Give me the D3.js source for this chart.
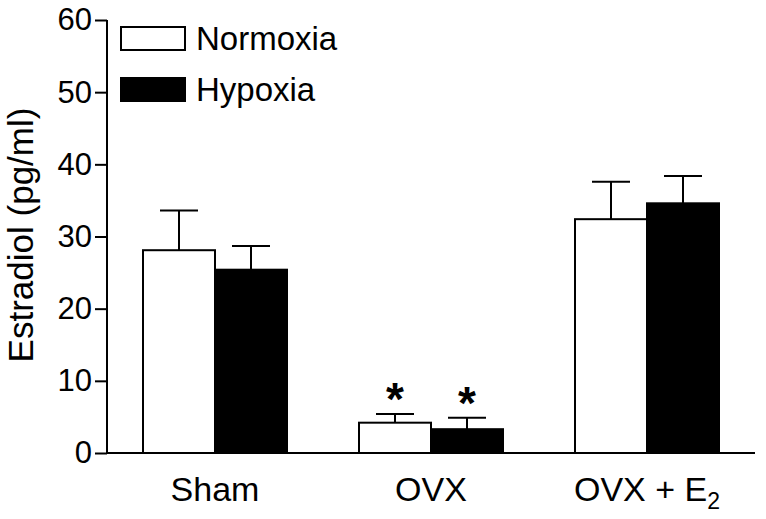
<!DOCTYPE html>
<html lang="en">
<head>
<meta charset="utf-8">
<script src="https://d3js.org/d3.v7.min.js"></script>
<style>
  body { margin: 0; background: #fff; }
  svg text { font-family: "Liberation Sans", Arial, sans-serif; fill: #000; }
</style>
</head>
<body>
<div id="chart"></div>
<script>
// data
var groups = ["Sham", "OVX", "OVX + E2"];
var seriesNames = ["Normoxia", "Hypoxia"];
var normoxia = [28.1, 4.2, 32.4];
var normoxiaErr = [5.5, 1.2, 5.2];
var hypoxia = [25.4, 3.3, 34.6];
var hypoxiaErr = [3.3, 1.6, 3.8];
var starred = [false, true, false];
var yTicks = [0, 10, 20, 30, 40, 50, 60];

var width = 766, height = 519;
var svg = d3.select("#chart").append("svg")
    .attr("width", width).attr("height", height);

var x0 = d3.scaleBand().domain(groups).range([107, 755]).padding(0);
var x1 = d3.scaleBand().domain(seriesNames).range([0, 144]).padding(0);
var y = d3.scaleLinear().domain([0, 60]).range([453, 20]);

var rows = groups.map(function (g, i) {
    return [
        { group: g, name: "Normoxia", v: normoxia[i], e: normoxiaErr[i], fill: "#fff", star: starred[i] },
        { group: g, name: "Hypoxia", v: hypoxia[i], e: hypoxiaErr[i], fill: "#000", star: starred[i] }
    ];
}).flat();

function barX(d) { return x0(d.group) + (x0.bandwidth() - 144) / 2 + x1(d.name); }

// error bars (drawn behind bars)
var eb = svg.append("g").attr("stroke", "#000").attr("stroke-width", 2);
rows.forEach(function (d) {
    var cx = barX(d) + x1.bandwidth() / 2;
    eb.append("line").attr("x1", cx).attr("x2", cx).attr("y1", y(d.v)).attr("y2", y(d.v + d.e));
    eb.append("line").attr("x1", cx - 19).attr("x2", cx + 19).attr("y1", y(d.v + d.e)).attr("y2", y(d.v + d.e));
});

// bars
svg.append("g").selectAll("rect").data(rows).join("rect")
    .attr("x", barX)
    .attr("y", function (d) { return y(d.v); })
    .attr("width", x1.bandwidth())
    .attr("height", function (d) { return y(0) - y(d.v); })
    .attr("fill", function (d) { return d.fill; })
    .attr("stroke", "#000")
    .attr("stroke-width", 2);

// significance stars
svg.append("g").selectAll("text").data(rows.filter(function (d) { return d.star; })).join("text")
    .attr("x", function (d) { return barX(d) + x1.bandwidth() / 2; })
    .attr("y", function (d) { return y(d.v + d.e) + 1; })
    .attr("text-anchor", "middle")
    .style("font-size", "46px")
    .style("font-weight", "bold")
    .text("*");

// y axis
var yAxis = svg.append("g").attr("transform", "translate(107,0)")
    .call(d3.axisLeft(y).tickValues(yTicks).tickSize(12).tickPadding(3));
yAxis.selectAll("line, path").attr("stroke", "#000").attr("stroke-width", 2);
yAxis.select(".domain").attr("d", "M0," + y(60) + "V" + y(0));
yAxis.selectAll("text").style("font-size", "31px").attr("font-family", null);

// x axis baseline
svg.append("line").attr("x1", 106).attr("x2", 755).attr("y1", y(0)).attr("y2", y(0))
    .attr("stroke", "#000").attr("stroke-width", 2);

// x labels
var xl = svg.append("g").selectAll("text").data(groups).join("text")
    .attr("x", function (g) { return x0(g) + x0.bandwidth() / 2; })
    .attr("y", 501)
    .attr("text-anchor", "middle")
    .style("font-size", "34px");
xl.each(function (g) {
    var t = d3.select(this);
    if (g === "OVX + E2") {
        t.append("tspan").text("OVX + E");
        t.append("tspan").attr("dy", 8).style("font-size", "23px").text("2");
    } else {
        t.text(g);
    }
});

// y title
svg.append("text")
    .attr("transform", "translate(33,235) rotate(-90)")
    .attr("text-anchor", "middle")
    .style("font-size", "35px")
    .text("Estradiol (pg/ml)");

// legend
var lg = svg.append("g");
seriesNames.forEach(function (s, i) {
    lg.append("rect").attr("x", 121).attr("y", 27 + i * 51).attr("width", 64).attr("height", 23)
        .attr("fill", i === 0 ? "#fff" : "#000").attr("stroke", "#000").attr("stroke-width", 2);
    lg.append("text").attr("x", 196).attr("y", 50 + i * 51).style("font-size", "33px").text(s);
});
</script>
</body>
</html>
